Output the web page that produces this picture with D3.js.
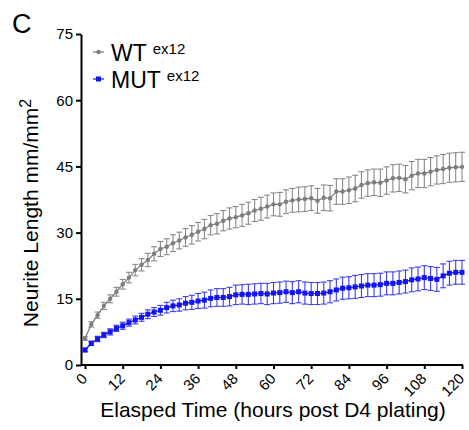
<!DOCTYPE html>
<html>
<head>
<meta charset="utf-8">
<script src="https://cdn.jsdelivr.net/npm/d3@7"></script>
<style>
  body { margin: 0; background: #fff; }
  text { font-family: "Liberation Sans", Arial, sans-serif; fill: #000; }
</style>
</head>
<body>
<script>
// hours post plating, one reading every 2 h
var hours = d3.range(0, 121, 2);

// WT ex12 mean neurite length (mm/mm2)
var wtMean = [6.0, 9.2, 11.3, 13.4, 15.0, 16.6, 18.3, 19.8, 21.5, 22.7,
    23.8, 25.2, 26.3, 26.8, 27.6, 28.2, 28.9, 29.5, 30.2, 30.8,
    31.7, 32.0, 32.7, 33.2, 33.5, 33.9, 34.4, 35.0, 35.4, 35.9,
    36.4, 36.4, 37.0, 37.3, 37.5, 37.6, 37.8, 37.2, 37.9, 37.8,
    39.3, 39.3, 39.6, 40.0, 40.8, 41.2, 41.4, 41.3, 41.8, 42.3,
    42.4, 42.1, 42.9, 43.4, 43.4, 43.8, 44.2, 44.4, 44.7, 44.8, 44.9];
var wtErr = [0.4, 0.6, 0.7, 0.8, 0.9, 1.0, 1.1, 1.2, 1.3, 1.4,
    1.5, 1.6, 1.7, 1.8, 1.9, 1.9, 2.0, 2.1, 2.1, 2.2,
    2.2, 2.3, 2.3, 2.4, 2.4, 2.5, 2.5, 2.5, 2.6, 2.6,
    2.6, 2.7, 2.7, 2.7, 2.8, 2.8, 2.8, 2.8, 2.9, 2.9,
    2.9, 2.9, 3.0, 3.0, 3.0, 3.0, 3.0, 3.1, 3.1, 3.1,
    3.1, 3.1, 3.2, 3.2, 3.2, 3.2, 3.2, 3.3, 3.3, 3.3, 3.3];

// MUT ex12
var mutMean = [3.4, 4.9, 5.9, 6.8, 7.5, 8.3, 8.9, 9.6, 10.2, 10.8,
    11.5, 12.0, 12.4, 13.0, 13.4, 13.6, 14.0, 14.2, 14.5, 14.7,
    15.1, 15.3, 15.3, 15.5, 15.9, 16.0, 16.0, 16.1, 16.2, 16.1,
    16.3, 16.4, 16.6, 16.4, 16.6, 16.3, 16.2, 16.2, 16.3, 16.6,
    17.0, 17.4, 17.5, 17.7, 17.9, 18.1, 18.1, 18.2, 18.5, 18.5,
    18.7, 18.9, 19.3, 19.5, 19.8, 19.6, 19.4, 20.2, 20.8, 21.0, 21.0];
var mutErr = [0.4, 0.5, 0.6, 0.6, 0.7, 0.7, 0.8, 0.8, 0.9, 0.9,
    1.0, 1.0, 1.1, 1.2, 1.3, 1.4, 1.5, 1.6, 1.7, 1.8,
    1.9, 2.0, 2.0, 2.1, 2.2, 2.2, 2.3, 2.3, 2.3, 2.4,
    2.4, 2.4, 2.4, 2.5, 2.5, 2.5, 2.5, 2.5, 2.5, 2.5,
    2.5, 2.5, 2.5, 2.6, 2.6, 2.6, 2.6, 2.6, 2.6, 2.6,
    2.6, 2.6, 2.7, 2.7, 2.7, 2.7, 2.7, 2.7, 2.7, 2.7, 2.7];

var xTicks = [0, 12, 24, 36, 48, 60, 72, 84, 96, 108, 120];
var yTicks = [0, 15, 30, 45, 60, 75];

var seriesNames = ["WT", "MUT"];
var seriesSup = "ex12";

var width = 469, height = 430;

var svg = d3.select("body").append("svg")
    .attr("width", width)
    .attr("height", height);

var x = d3.scaleLinear().domain([0, 120]).range([85, 462]);
var y = d3.scaleLinear().domain([0, 75]).range([365, 34]);

//panel letter
svg.append("text")
    .attr("x", 12)
    .attr("y", 33)
    .style("font-size", "27px")
    .text("C");

//axes
var yAxis = svg.append("g")
    .attr("transform", "translate(81,0)")
    .call(d3.axisLeft(y).tickValues(yTicks).tickSize(5).tickSizeOuter(0).tickPadding(3));
yAxis.selectAll("text").style("font-size", "15px");

var xAxis = svg.append("g")
    .attr("transform", "translate(0,365)")
    .call(d3.axisBottom(x).tickValues(xTicks).tickSize(4).tickSizeOuter(0));
xAxis.select(".domain").attr("d", "M81,0H463");
xAxis.selectAll("text")
    .style("font-size", "15px")
    .style("text-anchor", "end")
    .attr("dy", "0.35em")
    .attr("transform", "translate(-1,11) rotate(-45)")
    .attr("y", 0)
    .attr("x", 0);

svg.selectAll(".domain, .tick line")
    .attr("stroke", "#000")
    .attr("stroke-width", 2);

//axis titles
svg.append("text")
    .attr("x", 273)
    .attr("y", 417)
    .attr("text-anchor", "middle")
    .style("font-size", "21px")
    .text("Elasped Time (hours post D4 plating)");

var yt = svg.append("text")
    .attr("transform", "translate(38,213) rotate(-90)")
    .attr("text-anchor", "middle")
    .style("font-size", "21px");
yt.append("tspan").text("Neurite Length mm/mm");
yt.append("tspan").attr("dy", "-0.45em").style("font-size", "16px").text("2");

//draw one series with error bars
function drawSeries(mean, err, color, barColor, shape){
    var data = hours.map(function(h, i){
        return {h: h, m: mean[i], e: err[i]};
    });
    var g = svg.append("g");

    var bars = g.selectAll(".bar")
        .data(data)
        .enter()
        .append("g")
        .attr("stroke", barColor)
        .attr("stroke-width", 1.1);
    bars.append("line")
        .attr("x1", d => x(d.h)).attr("x2", d => x(d.h))
        .attr("y1", d => y(d.m - d.e)).attr("y2", d => y(d.m + d.e));
    bars.append("line")
        .attr("x1", d => x(d.h) - 3).attr("x2", d => x(d.h) + 3)
        .attr("y1", d => y(d.m + d.e)).attr("y2", d => y(d.m + d.e));
    bars.append("line")
        .attr("x1", d => x(d.h) - 3).attr("x2", d => x(d.h) + 3)
        .attr("y1", d => y(d.m - d.e)).attr("y2", d => y(d.m - d.e));

    g.append("path")
        .datum(data)
        .attr("fill", "none")
        .attr("stroke", color)
        .attr("stroke-width", 1.2)
        .attr("d", d3.line().x(d => x(d.h)).y(d => y(d.m)));

    if (shape == "circle"){
        g.selectAll(".pt")
            .data(data)
            .enter()
            .append("circle")
            .attr("cx", d => x(d.h))
            .attr("cy", d => y(d.m))
            .attr("r", 2.2)
            .attr("fill", color);
    } else {
        g.selectAll(".pt")
            .data(data)
            .enter()
            .append("rect")
            .attr("x", d => x(d.h) - 2.5)
            .attr("y", d => y(d.m) - 2.5)
            .attr("width", 5)
            .attr("height", 5)
            .attr("fill", color);
    }
}

drawSeries(wtMean, wtErr, "#7d7d7d", "#8a8a8a", "circle");
drawSeries(mutMean, mutErr, "#1414f0", "#3c3cf0", "square");

//legend
var legend = svg.append("g");
var legY = [52, 79];
var legColors = ["#7d7d7d", "#1414f0"];
seriesNames.forEach(function(name, i){
    legend.append("line")
        .attr("x1", 93).attr("x2", 104)
        .attr("y1", legY[i]).attr("y2", legY[i])
        .attr("stroke", legColors[i])
        .attr("stroke-width", 1.2);
    if (i == 0){
        legend.append("circle")
            .attr("cx", 98.5).attr("cy", legY[i]).attr("r", 2.2)
            .attr("fill", legColors[i]);
    } else {
        legend.append("rect")
            .attr("x", 96).attr("y", legY[i] - 2.5)
            .attr("width", 5).attr("height", 5)
            .attr("fill", legColors[i]);
    }
    var t = legend.append("text")
        .attr("x", 111)
        .attr("y", legY[i] + 9)
        .style("font-size", "23px");
    t.append("tspan").text(name + " ");
    t.append("tspan")
        .attr("dy", "-0.5em")
        .style("font-size", "15px")
        .text(seriesSup);
});
</script>
</body>
</html>
